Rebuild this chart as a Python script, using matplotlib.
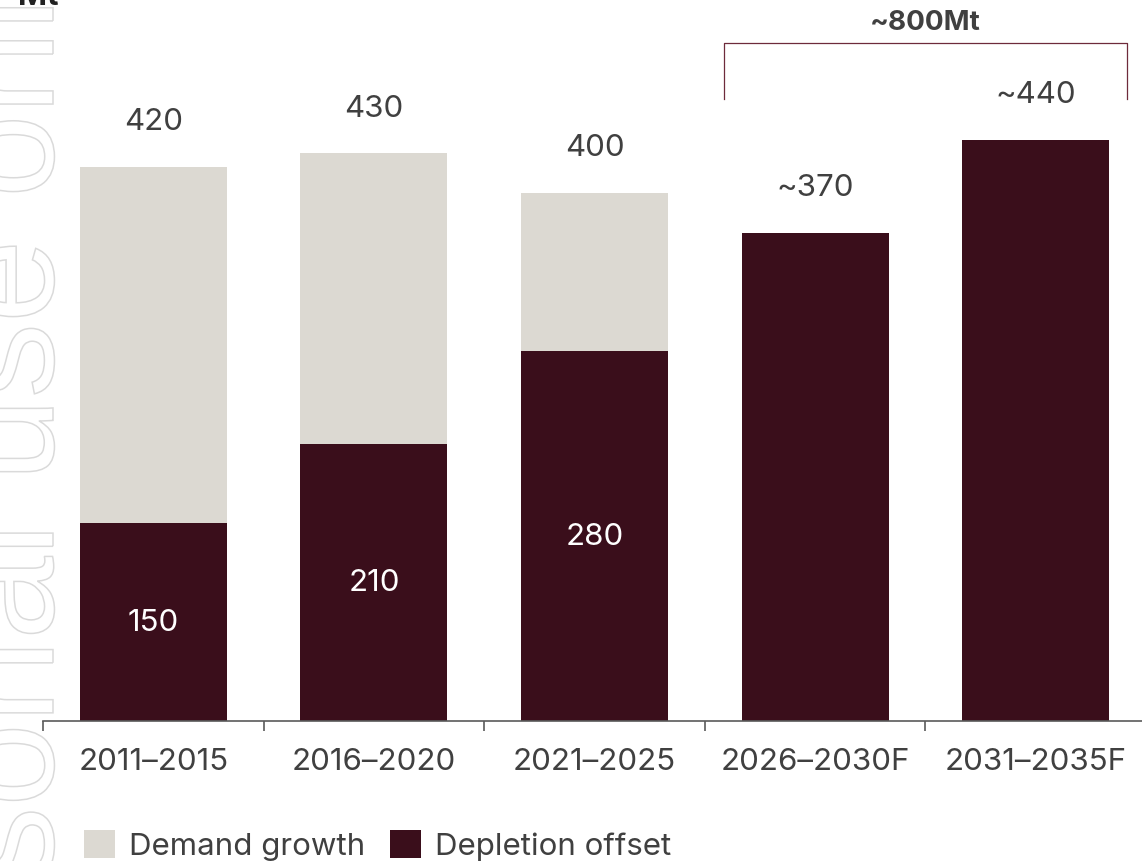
import matplotlib
matplotlib.use('Agg')
import matplotlib.pyplot as plt
import numpy as np
from matplotlib.patches import Patch, PathPatch
from matplotlib.textpath import TextPath
from matplotlib.font_manager import FontProperties
from matplotlib.transforms import Affine2D

# ---------------- data ----------------
categories = ['2011–2015', '2016–2020', '2021–2025', '2026–2030F', '2031–2035F']
depletion_offset = [150, 210, 280, 370, 440]
demand_growth = [270, 220, 120, 0, 0]
total_labels = ['420', '430', '400', '~370', '~440']
inner_labels = ['150', '210', '280', '', '']
bracket_label = '~800Mt'
unit_label = 'Mt'
legend_labels = ['Demand growth', 'Depletion offset']

# ---------------- style ----------------
DARK = '#3a0e1b'
GREY = '#dcd9d2'
TXT = '#404040'
AXC = '#5a5a5a'
FONT = 'Inter'
FS = 22.5
plt.rcParams['font.family'] = [FONT, 'DejaVu Sans']

W, H = 1142, 862
fig = plt.figure(figsize=(W / 100, H / 100), dpi=100)
fig.patch.set_facecolor('white')

# watermark (outlined, rotated)
wm_text = 'For personal use only'
wm_prop = FontProperties(family='Liberation Sans', size=150)
tp = TextPath((0, 0), wm_text, prop=wm_prop)
wm_w = tp.get_extents().x1
wm_tr = Affine2D().rotate_deg(90).translate(53, (H + 76) - wm_w)
wm = PathPatch(tp, transform=wm_tr, facecolor='none', edgecolor='#dadada', lw=1.1, zorder=-5)
fig.add_artist(wm)

ax = fig.add_axes([43 / W, 140 / H, 1103 / W, 722 / H])
ax.set_facecolor('none')
ax.set_zorder(1)

x = np.arange(len(categories))
bw = 0.667
depl = np.array(depletion_offset)
dem = np.array(demand_growth)
totals = depl + dem

ax.bar(x, depl, width=bw, color=DARK, zorder=2)
ax.bar(x, dem, bottom=depl, width=bw, color=GREY, zorder=2)

ax.set_xlim(-0.5, len(categories) - 0.5)
ax.set_ylim(0, 722 / 1.32)

for i in range(len(categories)):
    ax.annotate(total_labels[i], (x[i], totals[i]), xytext=(0, 33), textcoords='offset points',
                ha='center', va='center', fontsize=FS, color=TXT)
    if inner_labels[i]:
        ax.text(x[i], depl[i] / 2, inner_labels[i], ha='center', va='center',
                fontsize=FS, color='white', zorder=3)

# bracket over forecast bars
bl = x[3] - bw / 2 - 0.08
br = x[4] + bw / 2 + 0.08
btop = 513.5
bbot = 471
ax.plot([bl, bl, br, br], [bbot, btop, btop, bbot], color='#6e2b3b', lw=0.9,
        clip_on=False, zorder=3)
ax.annotate(bracket_label, ((bl + br) / 2, btop), xytext=(0, 15), textcoords='offset points',
            ha='center', va='center', fontsize=20, fontweight='bold', color=TXT,
            annotation_clip=False)

# axes styling
for s in ['left', 'top', 'right']:
    ax.spines[s].set_visible(False)
ax.spines['bottom'].set_color(AXC)
ax.spines['bottom'].set_linewidth(1.2)
ax.set_yticks([])
ax.set_xticks(x)
ax.set_xticklabels(categories)
ax.tick_params(axis='x', which='major', length=0, pad=19, labelsize=FS, labelcolor=TXT)
ax.set_xticks(np.arange(len(categories)) - 0.5, minor=True)
ax.tick_params(axis='x', which='minor', length=7, width=1.2, color=AXC, direction='out')

fig.text(18 / W, 1 - 5 / H, unit_label, fontsize=FS, fontweight='bold', color='#222222',
         ha='left', va='baseline')

handles = [Patch(facecolor=GREY, label=legend_labels[0]),
           Patch(facecolor=DARK, label=legend_labels[1])]
fig.legend(handles=handles, loc='upper left', bbox_to_anchor=(84 / W, 1 - 831 / H),
           ncol=2, frameon=False, fontsize=FS, labelcolor=TXT, handlelength=0.98,
           handleheight=0.98, handletextpad=0.45, columnspacing=0.8, borderpad=0,
           borderaxespad=0)

fig.savefig('out.png', dpi=100)
